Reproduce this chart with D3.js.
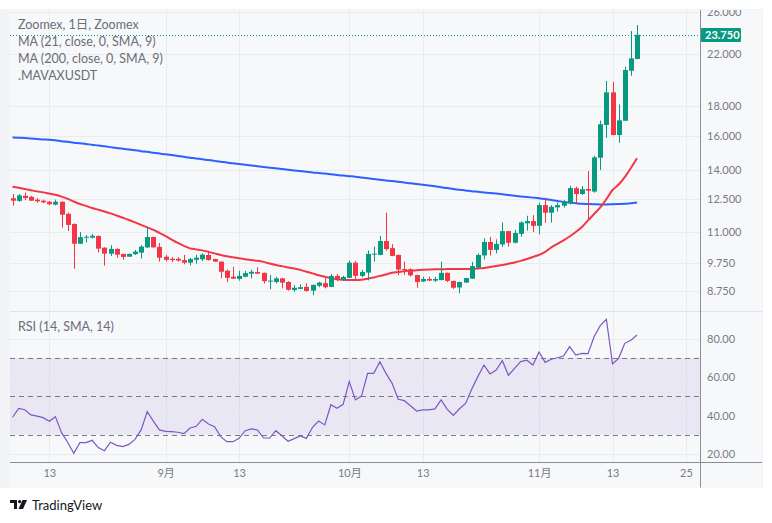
<!DOCTYPE html>
<html><head><meta charset="utf-8">
<script src="https://cdn.jsdelivr.net/npm/d3@7"></script>
<style>
html,body{margin:0;padding:0;background:#fff;}
svg{display:block;}
text{font-family:Lato,"Noto Sans CJK JP",sans-serif;}
</style></head><body>
<svg id="chart" width="772" height="523"></svg>
<script>
// ---------- data ----------
const startDay = "2023-08-07";
const open  = [12.55,12.42,12.67,12.62,12.48,12.43,12.38,12.24,12.38,11.81,
  11.35,10.51,10.76,10.76,10.83,10.35,10.11,10.30,10.10,9.99,
  10.09,10.15,10.36,10.79,10.38,9.99,9.91,9.91,9.86,9.76,
  9.87,9.89,10.06,9.90,9.80,9.46,9.24,9.16,9.24,9.35,
  9.41,9.38,9.07,9.05,9.18,9.05,8.77,8.81,8.88,8.75,
  8.92,9.01,8.88,9.27,9.12,9.20,9.76,9.27,9.39,10.09,
  10.06,10.62,10.33,10.06,9.52,9.51,9.30,9.07,9.16,9.10,
  9.12,9.38,9.09,8.86,9.03,9.17,9.57,10.04,10.58,10.26,
  10.48,11.04,10.55,10.92,11.38,11.48,11.27,12.22,11.86,12.11,
  12.19,12.30,13.05,12.76,13.01,12.88,14.70,16.70,18.97,16.06,
  16.98,20.64,21.61];
const high  = [12.76,12.76,12.83,12.66,12.56,12.48,12.42,12.48,12.40,11.86,
  11.38,11.00,10.87,10.92,10.86,10.36,10.45,10.32,10.11,10.11,
  10.26,10.46,11.22,10.80,10.54,10.06,9.97,9.97,10.06,9.94,
  10.06,10.12,10.19,9.91,9.81,9.50,9.61,9.45,9.45,9.50,
  9.59,9.39,9.30,9.24,9.20,9.08,8.95,8.97,9.01,8.96,
  9.06,9.18,9.34,9.34,9.27,9.84,9.82,9.49,10.24,10.39,
  10.83,11.86,10.49,10.07,9.80,9.55,9.31,9.24,9.24,9.24,
  9.80,9.39,9.10,9.06,9.20,9.79,10.12,10.73,10.79,10.69,
  11.42,11.05,11.09,11.47,11.72,11.75,12.34,12.58,12.22,12.34,
  12.46,13.18,13.13,13.16,13.96,14.81,16.99,19.83,19.77,18.10,
  20.96,24.10,24.67];
const low   = [12.19,12.38,12.46,12.42,12.33,12.32,12.21,12.21,11.19,11.04,
  9.53,10.50,10.56,10.73,10.15,9.65,10.02,9.95,9.87,9.98,
  10.06,9.92,10.33,10.35,9.80,9.81,9.78,9.80,9.70,9.65,
  9.72,9.82,9.84,9.79,9.18,9.04,9.16,9.10,9.22,9.18,
  9.34,9.00,8.80,9.00,8.83,8.75,8.71,8.80,8.72,8.60,
  8.87,8.83,8.87,9.08,9.09,9.19,9.15,9.22,9.11,9.80,
  10.05,10.23,10.01,9.30,9.30,9.25,8.85,9.05,9.09,9.05,
  9.11,9.05,8.81,8.66,9.02,9.16,9.56,9.88,10.04,10.12,
  10.38,10.39,10.52,10.80,11.06,10.99,10.90,11.41,11.41,11.91,
  12.10,12.25,12.30,12.71,11.53,12.83,14.01,15.89,16.05,15.59,
  16.97,20.24,21.60];
const close = [12.43,12.69,12.56,12.43,12.40,12.35,12.26,12.38,11.77,11.31,
  10.51,10.78,10.80,10.84,10.31,10.11,10.30,10.07,9.98,10.10,
  10.19,10.39,10.79,10.36,9.95,9.87,9.86,9.84,9.76,9.90,
  9.95,10.07,9.86,9.80,9.42,9.20,9.17,9.27,9.37,9.42,
  9.35,9.08,9.10,9.18,9.03,8.78,8.85,8.87,8.74,8.95,
  9.03,8.87,9.27,9.12,9.23,9.76,9.27,9.41,10.10,10.11,
  10.62,10.29,10.02,9.50,9.49,9.29,9.05,9.16,9.10,9.16,
  9.38,9.09,8.85,9.05,9.19,9.63,10.06,10.58,10.26,10.50,
  11.04,10.55,10.96,11.42,11.48,11.27,12.22,11.86,12.14,12.22,
  12.38,13.06,12.76,13.00,12.92,14.72,16.75,18.97,16.06,17.01,
  20.70,21.66,23.75];
const ma21 = [13.13,13.07,13.01,12.95,12.89,12.84,12.78,12.72,12.63,12.52,
  12.39,12.27,12.18,12.08,12.00,11.92,11.83,11.73,11.63,11.53,
  11.42,11.31,11.20,11.09,10.96,10.83,10.68,10.54,10.42,10.32,
  10.28,10.24,10.18,10.12,10.06,10.01,9.97,9.93,9.89,9.86,
  9.83,9.79,9.73,9.67,9.63,9.58,9.54,9.49,9.42,9.36,
  9.29,9.24,9.19,9.15,9.13,9.12,9.12,9.13,9.17,9.21,
  9.27,9.32,9.38,9.41,9.44,9.46,9.48,9.49,9.50,9.51,
  9.51,9.52,9.52,9.52,9.52,9.52,9.54,9.56,9.60,9.63,
  9.67,9.72,9.77,9.83,9.90,9.98,10.06,10.18,10.36,10.50,
  10.65,10.81,11.00,11.22,11.51,11.80,12.11,12.51,12.96,13.24,
  13.63,14.12,14.67];
const ma200 = [15.91,15.89,15.87,15.84,15.82,15.79,15.77,15.73,15.68,15.64,
  15.59,15.55,15.51,15.46,15.42,15.37,15.32,15.27,15.23,15.18,
  15.13,15.08,15.04,14.99,14.94,14.90,14.85,14.80,14.75,14.70,
  14.66,14.61,14.57,14.52,14.47,14.43,14.38,14.34,14.30,14.26,
  14.22,14.18,14.14,14.11,14.07,14.03,13.99,13.96,13.92,13.88,
  13.85,13.82,13.78,13.74,13.71,13.68,13.65,13.61,13.57,13.53,
  13.49,13.45,13.42,13.38,13.34,13.31,13.27,13.23,13.19,13.15,
  13.10,13.06,13.01,12.97,12.94,12.90,12.87,12.84,12.81,12.78,
  12.75,12.71,12.67,12.64,12.61,12.58,12.55,12.51,12.46,12.42,
  12.37,12.34,12.31,12.28,12.27,12.26,12.25,12.25,12.26,12.27,
  12.28,12.31,12.34];
const rsi = [39.1,43.7,43.0,40.3,39.7,38.9,37.0,39.4,31.1,26.1,
  20.4,25.9,25.9,27.1,23.3,21.7,26.1,24.5,23.8,25.0,
  27.6,32.5,42.0,37.1,32.5,31.8,31.6,31.3,30.6,33.5,
  34.4,38.0,35.6,34.2,29.0,26.4,26.4,28.1,32.1,33.0,
  32.5,28.3,28.3,32.1,29.5,26.6,28.0,29.4,28.1,33.9,
  37.1,35.1,45.6,43.7,45.8,57.6,48.1,50.1,61.9,61.9,
  67.9,61.9,56.7,48.4,47.7,45.1,42.3,42.9,42.9,43.4,
  48.1,43.2,40.1,43.5,46.3,53.6,60.2,66.2,61.6,63.6,
  68.5,60.9,64.5,68.0,68.7,66.2,73.0,67.6,69.2,70.0,
  70.9,75.8,71.4,72.3,72.1,81.0,86.7,90.0,66.8,69.7,
  77.5,79.1,81.8];
const priceTicks = [8.75, 9.75, 11, 12.5, 14, 16, 18, 22, 26];
const rsiTicks = [20, 40, 60, 80];
const rsiLevels = [30, 50, 70];
const timeTickDays = ["2023-08-13","2023-09-01","2023-09-13","2023-10-01","2023-10-13","2023-11-01","2023-11-13","2023-11-25"];
const timeTickLabels = ["13","9月","13","10月","13","11月","13","25"];
const legendLines = ["Zoomex, 1日, Zoomex","MA (21, close, 0, SMA, 9)","MA (200, close, 0, SMA, 9)",".MAVAXUSDT"];
const rsiTitle = "RSI (14, SMA, 14)";
const brand = "TradingView";

// ---------- layout ----------
const L = 10, R = 700, AXR = 762, PT = 10, PB = 311.5, RT = 312, RB = 462.5, WB = 487.5;
const UP = "#089981", DOWN = "#f23645";
const parse = d3.utcParse("%Y-%m-%d");
const start = parse(startDay);
const days = close.map((_, i) => d3.utcDay.offset(start, i));
const bars = days.map((d, i) => ({d, o: open[i], h: high[i], l: low[i], c: close[i], m21: ma21[i], m200: ma200[i], r: rsi[i]}));

const x = d3.scaleUtc()
  .domain([new Date(Date.UTC(2023, 7, 6, 14)), new Date(Date.UTC(2023, 10, 27, 7))])
  .range([L, R]);
const y = d3.scaleLog().domain([8.067, 26.16]).range([PB, PT]);
const yr = d3.scaleLinear().domain([15.58, 93.77]).range([RB, RT]);

const svg = d3.select("#chart");
const defs = svg.append("defs");
defs.append("clipPath").attr("id", "clipPrice").append("rect").attr("x", L).attr("y", PT).attr("width", R - L).attr("height", PB - PT);
defs.append("clipPath").attr("id", "clipRsi").append("rect").attr("x", L).attr("y", RT).attr("width", R - L).attr("height", RB - RT);
// axis group is translated by R, so its clip rect starts at local x = 0
defs.append("clipPath").attr("id", "clipAxis").append("rect").attr("x", 0).attr("y", PT).attr("width", AXR - R).attr("height", PB - PT);

// widget background
svg.append("rect").attr("x", 0).attr("y", 9).attr("width", AXR + 1).attr("height", WB - 9 + 0.5).attr("fill", "#f3f4f7");
svg.append("rect").attr("x", L).attr("y", PT).attr("width", AXR - L).attr("height", WB - PT).attr("fill", "#f7f8fa");

const gridColor = "#e9ebef";
// vertical grid
const tickDates = timeTickDays.map(parse);
[[PT, PB], [RT, RB]].forEach(([a, b]) => {
  svg.append("g").selectAll("line").data(tickDates).join("line")
    .attr("x1", d => Math.round(x(d)) + 0.5).attr("x2", d => Math.round(x(d)) + 0.5)
    .attr("y1", a).attr("y2", b).attr("stroke", gridColor);
});
// horizontal grid (price)
svg.append("g").selectAll("line").data(priceTicks).join("line")
  .attr("x1", L).attr("x2", R).attr("y1", d => Math.round(y(d)) + 0.5).attr("y2", d => Math.round(y(d)) + 0.5)
  .attr("stroke", gridColor);
// RSI band + grid
svg.append("rect").attr("x", L).attr("width", R - L)
  .attr("y", yr(rsiLevels[2])).attr("height", yr(rsiLevels[0]) - yr(rsiLevels[2]))
  .attr("fill", "#7e57c2").attr("fill-opacity", 0.1);
svg.append("g").selectAll("line").data(rsiTicks).join("line")
  .attr("x1", L).attr("x2", R).attr("y1", d => Math.round(yr(d)) + 0.5).attr("y2", d => Math.round(yr(d)) + 0.5)
  .attr("stroke", gridColor);
svg.append("g").selectAll("line").data(rsiLevels).join("line")
  .attr("x1", L).attr("x2", R).attr("y1", d => Math.round(yr(d)) + 0.5).attr("y2", d => Math.round(yr(d)) + 0.5)
  .attr("stroke", "#787b86").attr("stroke-dasharray", "5,4");

// pane separator
svg.append("line").attr("x1", L).attr("x2", AXR).attr("y1", 311.5).attr("y2", 311.5).attr("stroke", "#e0e3eb");

// ---------- price pane ----------
const gp = svg.append("g").attr("clip-path", "url(#clipPrice)");
const lineMA = acc => d3.line().x(d => x(d.d)).y(d => y(acc(d))).curve(d3.curveMonotoneX);
gp.append("path").datum(bars).attr("d", lineMA(d => d.m200)).attr("fill", "none").attr("stroke", "#2962ff").attr("stroke-width", 2);
gp.append("path").datum(bars).attr("d", lineMA(d => d.m21)).attr("fill", "none").attr("stroke", "#f23645").attr("stroke-width", 2);

const cg = gp.append("g").selectAll("g").data(bars).join("g");
cg.append("rect")
  .attr("x", d => Math.round(x(d.d)))
  .attr("width", 1)
  .attr("y", d => y(d.h)).attr("height", d => Math.max(1, y(d.l) - y(d.h)))
  .attr("fill", d => d.c >= d.o ? UP : DOWN);
cg.append("rect")
  .attr("x", d => Math.round(x(d.d)) - 2)
  .attr("width", 5)
  .attr("y", d => y(Math.max(d.o, d.c)))
  .attr("height", d => Math.max(1, y(Math.min(d.o, d.c)) - y(Math.max(d.o, d.c))))
  .attr("fill", d => d.c >= d.o ? UP : DOWN);

// last price dotted line
const last = close[close.length - 1];
svg.append("line").attr("x1", L).attr("x2", R).attr("y1", Math.round(y(last)) + 0.5).attr("y2", Math.round(y(last)) + 0.5)
  .attr("stroke", UP).attr("stroke-dasharray", "1,2");

// ---------- RSI pane ----------
const gr = svg.append("g").attr("clip-path", "url(#clipRsi)");
gr.append("path").datum(bars)
  .attr("d", d3.line().x(d => x(d.d)).y(d => yr(d.r)))
  .attr("fill", "none").attr("stroke", "#7e57c2").attr("stroke-width", 1.2);

// ---------- axes ----------
const axColor = "#787b86";
const pa = svg.append("g").attr("transform", `translate(${R},0)`).attr("clip-path", "url(#clipAxis)")
  .call(d3.axisRight(y).tickValues(priceTicks).tickFormat(d3.format(".3f")).tickSize(0).tickPadding(7));
pa.select(".domain").remove();
pa.selectAll("text").attr("fill", axColor).attr("font-size", 11).attr("font-family", "Lato, sans-serif");

const ra = svg.append("g").attr("transform", `translate(${R},0)`)
  .call(d3.axisRight(yr).tickValues(rsiTicks).tickFormat(d3.format(".2f")).tickSize(0).tickPadding(7));
ra.select(".domain").remove();
ra.selectAll("text").attr("fill", axColor).attr("font-size", 11).attr("font-family", "Lato, sans-serif");

const ta = svg.append("g").attr("transform", `translate(0,${RB})`)
  .call(d3.axisBottom(x).tickValues(tickDates).tickFormat((d, i) => timeTickLabels[i]).tickSize(0).tickPadding(7));
ta.select(".domain").remove();
ta.selectAll("text").attr("fill", axColor).attr("font-size", 11).attr("font-family", "Lato, 'Noto Sans CJK JP', sans-serif");

// axis lines
svg.append("line").attr("x1", R + 0.5).attr("x2", R + 0.5).attr("y1", PT).attr("y2", WB).attr("stroke", "#8a8d96");
svg.append("line").attr("x1", L).attr("x2", AXR).attr("y1", RB).attr("y2", RB).attr("stroke", "#8a8d96");

// last price label
const ly = Math.round(y(last));
svg.append("rect").attr("x", R + 1).attr("y", ly - 7).attr("width", 40).attr("height", 14).attr("rx", 1).attr("fill", UP);
svg.append("text").attr("x", R + 5).attr("y", ly).attr("dy", "0.35em").attr("fill", "#fff")
  .attr("font-size", 11).attr("font-weight", "bold").text(d3.format(".3f")(last));

// ---------- legends ----------
svg.append("g").selectAll("text").data(legendLines).join("text")
  .attr("x", 18).attr("y", (d, i) => 25 + i * 16.8).attr("dy", "0.35em")
  .attr("fill", "#6a6d78").attr("font-size", 12.5).text(d => d);
svg.append("text").attr("x", 18).attr("y", 327).attr("dy", "0.35em")
  .attr("fill", "#6a6d78").attr("font-size", 12.5).text(rsiTitle);

// ---------- brand ----------
const b = svg.append("g").attr("fill", "#131722");
b.append("path").attr("d", "M10 500h7v9h-3v-6h-4z");
b.append("circle").attr("cx", 19.6).attr("cy", 501.6).attr("r", 1.6);
b.append("path").attr("d", "M22.5 500h4.5l-4 9h-4.5z");
b.append("text").attr("x", 32).attr("y", 505).attr("dy", "0.35em").attr("font-size", 13).attr("fill", "#131722").text(brand);
</script>
</body></html>
